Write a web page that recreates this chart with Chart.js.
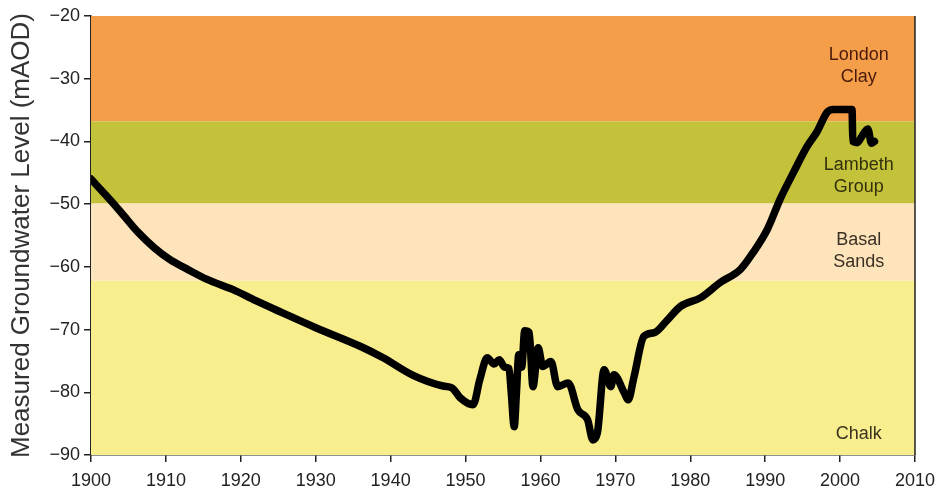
<!DOCTYPE html>
<html>
<head>
<meta charset="utf-8">
<script src="https://cdn.jsdelivr.net/npm/chart.js@4"></script>
<style>
  html, body { margin: 0; padding: 0; background: #fff; }
  #wrap { width: 943px; height: 501px; }
</style>
</head>
<body>
<div id="wrap"><canvas id="gw"></canvas></div>
<script>
// groundwater level readings (year, mAOD)
const years = [1900, 1902, 1904, 1906.3, 1908.5, 1910.5, 1912.9, 1915.5, 1918.9, 1922, 1925.5, 1930, 1936, 1939, 1943, 1947, 1948.2,
  1949.3, 1951, 1951.9, 1952.9, 1953.8, 1954.5, 1955.2, 1955.8, 1956.1, 1956.5, 1956.8, 1957.1, 1957.5, 1957.9, 1958.5, 1959, 1959.7,
  1960.3, 1961.4, 1962.3, 1963.7, 1965, 1966.3, 1967, 1967.6, 1968.5, 1969.4, 1969.8, 1971.2, 1971.7, 1972.5, 1973.8, 1975.2, 1977,
  1978.7, 1981.4, 1984, 1986.7, 1988.4, 1990.3, 1992, 1993.8, 1995.6, 1996.9, 1998.3, 1999.1, 2001.6, 2001.7, 2002.3, 2002.9, 2003.7, 2004.2, 2004.6];
const levels = [-46.0, -48.6, -51.3, -54.5, -57.0, -58.8, -60.4, -62, -63.6, -65.4, -67.3, -69.7, -72.7, -74.5, -77.3, -79.0, -79.3,
  -80.9, -82.0, -78, -74.5, -75.5, -74.8, -76, -76.2, -80, -85.5, -80, -74, -76, -70.2, -70.5, -79.1, -72.9,
  -75.9, -75.1, -79.1, -78.5, -82.8, -84.4, -87.6, -86.5, -76.4, -79.1, -77.2, -80.1, -81.2, -77.5, -71.1, -70.5, -68.4,
  -66.3, -64.9, -62.5, -60.4, -57.7, -54, -49.2, -44.9, -40.8, -38.5, -35.3, -34.9, -34.9, -40, -40.2, -39.2, -38, -40.3, -40];

// geological layers, tops and bottoms in mAOD
const bandNames = [["London", "Clay"], ["Lambeth", "Group"], ["Basal", "Sands"], ["Chalk"]];
const bandTops = [-20, -36.8, -49.9, -62.2];
const bandBottoms = [-36.8, -49.9, -62.2, -90];
const bandColors = ["#f59e4a", "#c4c23a", "#fde4bb", "#f9ee8d"];
const labelColors = ["#4a1a0c", "#33300c", "#3a3025", "#3a3320"];
const labelYs = [-27.9, -45.5, -57.5, -86.6];
const labelYear = 2002.5;

const xTicks = [1900, 1910, 1920, 1930, 1940, 1950, 1960, 1970, 1980, 1990, 2000, 2010];
const yTicks = [-20, -30, -40, -50, -60, -70, -80, -90];

const points = years.map((y, i) => ({ x: y, y: levels[i] }));
const FONT = "'Liberation Sans', Arial, sans-serif";

const bands = {
  id: "bands",
  beforeDatasetsDraw(chart) {
    const { ctx, chartArea, scales } = chart;
    ctx.save();
    bandTops.forEach((top, i) => {
      const y1 = scales.y.getPixelForValue(top);
      const y2 = scales.y.getPixelForValue(bandBottoms[i]);
      ctx.fillStyle = bandColors[i];
      ctx.fillRect(chartArea.left, y1, chartArea.right - chartArea.left, y2 - y1);
    });
    ctx.font = "18px " + FONT;
    ctx.textAlign = "center";
    ctx.textBaseline = "middle";
    bandNames.forEach((lines, i) => {
      ctx.fillStyle = labelColors[i];
      const cx = scales.x.getPixelForValue(labelYear);
      const cy = scales.y.getPixelForValue(labelYs[i]);
      const off = (lines.length - 1) * 11;
      lines.forEach((t, j) => ctx.fillText(t, cx, cy - off + j * 22));
    });
    ctx.restore();
  },
  afterDraw(chart) {
    const { ctx, chartArea } = chart;
    ctx.save();
    ctx.strokeStyle = "#222";
    ctx.lineWidth = 1.5;
    ctx.beginPath();
    ctx.moveTo(chartArea.right, chartArea.top);
    ctx.lineTo(chartArea.right, chartArea.bottom);
    ctx.stroke();
    ctx.restore();
  }
};

const tickFont = { family: FONT, size: 18 };

new Chart(document.getElementById("gw"), {
  type: "line",
  data: {
    datasets: [{
      data: points,
      borderColor: "#000",
      borderWidth: 7.5,
      pointRadius: 0,
      cubicInterpolationMode: "monotone",
      borderJoinStyle: "round",
      borderCapStyle: "round"
    }]
  },
  options: {
    responsive: true,
    maintainAspectRatio: false,
    animation: false,
    layout: { padding: { top: 16, right: 28, left: 0, bottom: 0 } },
    plugins: { legend: { display: false }, tooltip: { enabled: false } },
    scales: {
      x: {
        type: "linear",
        min: 1900,
        max: 2010,
        afterBuildTicks: (s) => { s.ticks = xTicks.map(v => ({ value: v })); },
        afterFit: (s) => { s.height = 46; },
        ticks: { font: tickFont, color: "#222", padding: 8, maxRotation: 0, callback: (v) => String(v) },
        grid: { drawOnChartArea: false, drawTicks: true, tickLength: 7, color: "#222", lineWidth: 1.5 },
        border: { display: true, color: "#222", width: 1.5 }
      },
      y: {
        min: -90,
        max: -20,
        afterBuildTicks: (s) => { s.ticks = yTicks.map(v => ({ value: v })); },
        afterFit: (s) => { s.width = 91; },
        ticks: { font: tickFont, color: "#222", padding: 4, callback: (v) => "\u2212" + Math.abs(v) },
        grid: { drawOnChartArea: false, drawTicks: true, tickLength: 7, color: "#222", lineWidth: 1.5 },
        border: { display: true, color: "#222", width: 1.5 },
        title: {
          display: true,
          text: "Measured Groundwater Level (mAOD)",
          font: { family: FONT, size: 26 },
          color: "#333",
          padding: { top: 6, bottom: 0 }
        }
      }
    }
  },
  plugins: [bands]
});
</script>
</body>
</html>
